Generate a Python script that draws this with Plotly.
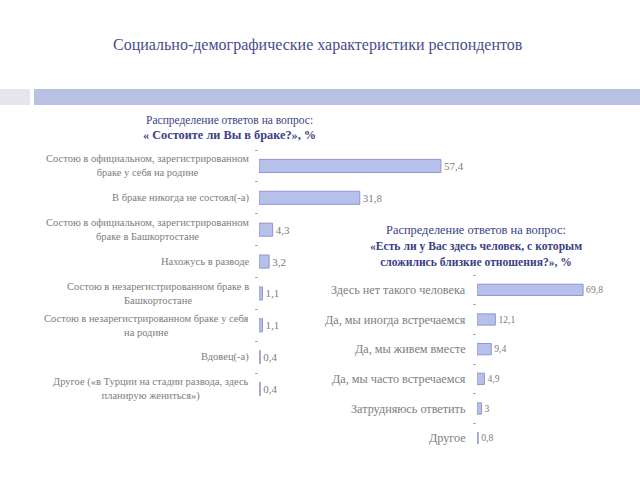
import plotly.graph_objects as go

# Chart 1: marital status
marital_labels = [
    "Состою в официальном, зарегистрированном<br>браке у себя на родине",
    "В браке никогда не состоял(-а)",
    "Состою в официальном, зарегистрированном<br>браке в Башкортостане",
    "Нахожусь в разводе",
    "Состою в незарегистрированном браке в<br>Башкортостане",
    "Состою в незарегистрированном браке у себя<br>на родине",
    "Вдовец(-а)",
    "Другое («в Турции на стадии развода, здесь<br>планирую жениться»)",
]
marital_values = [57.4, 31.8, 4.3, 3.2, 1.1, 1.1, 0.4, 0.4]

# Chart 2: close relations
close_labels = [
    "Здесь нет такого человека",
    "Да, мы иногда встречаемся",
    "Да, мы живем вместе",
    "Да, мы часто встречаемся",
    "Затрудняюсь ответить",
    "Другое",
]
close_values = [69.8, 12.1, 9.4, 4.9, 3, 0.8]

W, H = 640, 480
def px(x): return x / W
def py(y): return 1 - y / H

def fmt(v):
    return str(v).replace(".", ",")

BAR = "#b6c0ea"
BAR_LINE = "#8e99cf"
GRAY = "#7d7d7d"
SERIF = "Liberation Serif"

fig = go.Figure()
fig.add_trace(go.Bar(
    x=marital_values, y=marital_labels, orientation="h",
    xaxis="x", yaxis="y", width=0.41,
    marker=dict(color=BAR, line=dict(color=BAR_LINE, width=1)),
    text=[fmt(v) for v in marital_values], textposition="outside",
    textfont=dict(family=SERIF, size=11, color=GRAY), cliponaxis=False,
    hoverinfo="skip",
))
fig.add_trace(go.Bar(
    x=close_values, y=close_labels, orientation="h",
    xaxis="x2", yaxis="y2", width=0.38,
    marker=dict(color=BAR, line=dict(color=BAR_LINE, width=1)),
    text=[fmt(v) for v in close_values], textposition="outside",
    textfont=dict(family=SERIF, size=12, color=GRAY), cliponaxis=False,
    hoverinfo="skip",
))

annotations = []
for lab in marital_labels:
    annotations.append(dict(
        x=px(251), xref="paper", y=lab, yref="y", xanchor="right", yanchor="middle",
        text=lab, showarrow=False, align="center",
        font=dict(family=SERIF, size=10.5, color=GRAY),
    ))
for lab in close_labels:
    annotations.append(dict(
        x=px(468), xref="paper", y=lab, yref="y2", xanchor="right", yanchor="middle",
        text=lab, showarrow=False, align="right",
        font=dict(family=SERIF, size=12.2, color=GRAY),
    ))

# Titles
annotations += [
    dict(x=px(318), y=py(45), xref="paper", yref="paper", showarrow=False,
         xanchor="center", yanchor="middle",
         text="Социально-демографические характеристики респондентов",
         font=dict(family=SERIF, size=16, color="#474c8c")),
    dict(x=px(229), y=py(128), xref="paper", yref="paper", showarrow=False, align="center",
         xanchor="center", yanchor="middle",
         text="Распределение ответов на вопрос:<br><b><span style='font-size:12.3px'>« Состоите ли Вы в браке?», %</span></b>",
         font=dict(family=SERIF, size=11.5, color="#3b4186")),
    dict(x=px(476), y=py(246), xref="paper", yref="paper", showarrow=False, align="center",
         xanchor="center", yanchor="middle",
         text="Распределение ответов на вопрос:<br><b><span style='font-size:11.6px'>«Есть ли у Вас здесь человек, с которым</span></b><br><b><span style='font-size:11.6px'>сложились близкие отношения?», %</span></b>",
         font=dict(family=SERIF, size=12.4, color="#3b4186")),
]

shapes = [
    dict(type="rect", xref="paper", yref="paper", x0=0, x1=px(30), y0=py(105), y1=py(89),
         fillcolor="#e6e7ec", line=dict(width=0), layer="below"),
    dict(type="rect", xref="paper", yref="paper", x0=px(34), x1=1, y0=py(105), y1=py(89),
         fillcolor="#b8c0e4", line=dict(width=0), layer="below"),
]

fig.update_layout(
    width=W, height=H, margin=dict(l=0, r=0, t=0, b=0),
    paper_bgcolor="white", plot_bgcolor="white", showlegend=False,
    xaxis=dict(domain=[px(259), px(459)], range=[0, 200 / 3.17], visible=False),
    yaxis=dict(domain=[py(405), py(150)], autorange="reversed", anchor="x",
               showticklabels=False, ticks="outside", tickson="boundaries",
               ticklen=3, tickcolor="#aaaaaa", showline=False, showgrid=False,
               zeroline=False),
    xaxis2=dict(domain=[px(477), px(617)], range=[0, 140 / 1.52], visible=False, anchor="y2"),
    yaxis2=dict(domain=[py(453), py(275)], autorange="reversed", anchor="x2",
                showticklabels=False, ticks="outside", tickson="boundaries",
                ticklen=3, tickcolor="#aaaaaa", showline=False, showgrid=False,
                zeroline=False),
    annotations=annotations, shapes=shapes,
)

fig.write_html("out.html", config={"displayModeBar": False},
               post_script="document.body.style.margin='0';document.body.style.overflow='hidden';")
